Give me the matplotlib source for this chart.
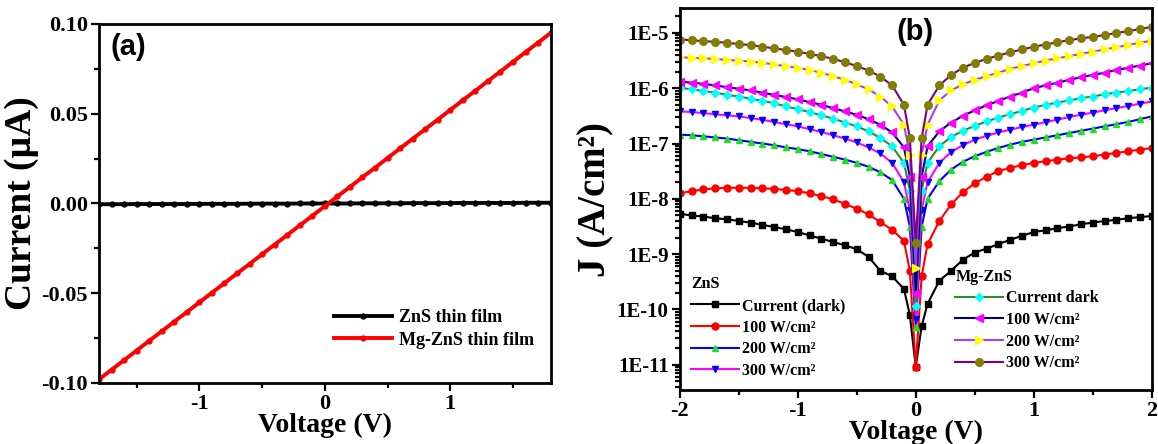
import matplotlib
matplotlib.use("Agg")
import matplotlib.pyplot as plt
from matplotlib.ticker import MultipleLocator, LogLocator, FuncFormatter, NullFormatter
import numpy as np

plt.rcParams['font.family'] = ['Liberation Serif', 'DejaVu Serif']
plt.rcParams['font.weight'] = 'bold'
plt.rcParams['axes.unicode_minus'] = False

# ---- panel (a): I-V of thin films ----
volt_a = [-1.8, -1.7, -1.6, -1.5, -1.4, -1.3, -1.2, -1.1, -1.0, -0.9, -0.8, -0.7,
          -0.6, -0.5, -0.4, -0.3, -0.2, -0.1, 0.0, 0.1, 0.2, 0.3, 0.4, 0.5,
          0.6, 0.7, 0.8, 0.9, 1.0, 1.1, 1.2, 1.3, 1.4, 1.5, 1.6, 1.7, 1.8]
zns_film = [-0.0004, -0.0004, -0.0004, -0.0003, -0.0003, -0.0003, -0.0003, -0.0003,
            -0.0002, -0.0002, -0.0002, -0.0002, -0.0001, -0.0001, -0.0001, -0.0001,
            0.0000, 0.0000, 0.0000, 0.0000, 0.0000, 0.0001, 0.0001, 0.0001, 0.0001,
            0.0002, 0.0002, 0.0002, 0.0002, 0.0003, 0.0003, 0.0003, 0.0003, 0.0003,
            0.0004, 0.0004, 0.0004]
mgzns_film = [-0.0980, -0.0926, -0.0873, -0.0819, -0.0765, -0.0712, -0.0658, -0.0605,
              -0.0551, -0.0497, -0.0444, -0.0390, -0.0337, -0.0283, -0.0229, -0.0176,
              -0.0122, -0.0069, -0.0015, 0.0039, 0.0092, 0.0146, 0.0199, 0.0253,
              0.0307, 0.0360, 0.0414, 0.0467, 0.0521, 0.0575, 0.0628, 0.0682,
              0.0735, 0.0789, 0.0843, 0.0896, 0.0950]

# ---- panel (b): log10 J (A/cm2) vs voltage ----
volt_b = [-2.0, -1.9, -1.8, -1.7, -1.6, -1.5, -1.4, -1.3, -1.2, -1.1, -1.0, -0.9,
          -0.8, -0.7, -0.6, -0.5, -0.4, -0.3, -0.2, -0.1, -0.05, 0.0, 0.05,
          0.1, 0.2, 0.3, 0.4, 0.5, 0.6, 0.7, 0.8, 0.9, 1.0, 1.1, 1.2, 1.3, 1.4,
          1.5, 1.6, 1.7, 1.8, 1.9, 2.0]
zns_dark = [-8.27, -8.30, -8.32, -8.35, -8.37, -8.40, -8.43, -8.47, -8.51, -8.55,
            -8.60, -8.66, -8.72, -8.78, -8.84, -8.91, -9.05, -9.30, -9.40, -9.63,
            -10.10, -11.04, -10.30,
            -9.90, -9.48, -9.30, -9.10, -8.97, -8.90, -8.82, -8.74, -8.67, -8.60,
            -8.57, -8.53, -8.50, -8.46, -8.43, -8.40, -8.38, -8.35, -8.33, -8.31]
zns_100 = [-7.90, -7.86, -7.83, -7.81, -7.80, -7.80, -7.80, -7.81, -7.82, -7.84,
           -7.86, -7.90, -7.95, -8.01, -8.09, -8.18, -8.28, -8.42, -8.56, -8.76,
           -9.30, -11.04, -9.40,
           -8.82, -8.40, -8.10, -7.88, -7.72, -7.60, -7.50, -7.44, -7.39, -7.35,
           -7.32, -7.29, -7.27, -7.25, -7.23, -7.20, -7.17, -7.14, -7.11, -7.08]
zns_200 = [-6.84, -6.85, -6.87, -6.89, -6.91, -6.94, -6.97, -7.00, -7.03, -7.07,
           -7.10, -7.14, -7.19, -7.24, -7.29, -7.35, -7.42, -7.52, -7.66, -8.00,
           -8.50, -10.32, -8.50,
           -8.00, -7.68, -7.47, -7.33, -7.23, -7.15, -7.08, -7.02, -6.97, -6.93,
           -6.89, -6.85, -6.81, -6.77, -6.73, -6.69, -6.65, -6.61, -6.56, -6.51]
zns_300 = [-6.42, -6.43, -6.45, -6.47, -6.49, -6.51, -6.54, -6.57, -6.61, -6.65,
           -6.69, -6.74, -6.79, -6.85, -6.91, -6.98, -7.07, -7.18, -7.35, -7.70,
           -8.20, -10.17, -8.20,
           -7.70, -7.35, -7.15, -7.03, -6.93, -6.86, -6.80, -6.75, -6.70, -6.66,
           -6.61, -6.57, -6.52, -6.48, -6.44, -6.40, -6.36, -6.32, -6.28, -6.24]
mg_dark = [-5.99, -6.02, -6.05, -6.08, -6.12, -6.15, -6.19, -6.23, -6.27, -6.33,
           -6.38, -6.43, -6.49, -6.55, -6.62, -6.69, -6.78, -6.90, -7.05, -7.35,
           -7.85, -9.93, -7.85,
           -7.35, -7.05, -6.88, -6.77, -6.68, -6.60, -6.53, -6.47, -6.41, -6.35,
           -6.30, -6.26, -6.22, -6.18, -6.15, -6.11, -6.08, -6.05, -6.02, -5.99]
mg_100 = [-5.88, -5.90, -5.92, -5.95, -5.98, -6.01, -6.04, -6.08, -6.12, -6.16,
          -6.20, -6.25, -6.30, -6.36, -6.42, -6.48, -6.56, -6.66, -6.80, -7.07,
          -7.60, -9.70, -7.60,
          -7.05, -6.78, -6.62, -6.50, -6.40, -6.31, -6.23, -6.15, -6.08, -6.00,
          -5.95, -5.90, -5.85, -5.80, -5.76, -5.72, -5.67, -5.63, -5.59, -5.55]
mg_200 = [-5.44, -5.45, -5.46, -5.47, -5.49, -5.50, -5.52, -5.54, -5.57, -5.60,
          -5.63, -5.67, -5.72, -5.78, -5.85, -5.93, -6.02, -6.15, -6.33, -6.66,
          -7.20, -9.25, -7.20,
          -6.66, -6.22, -6.04, -5.93, -5.85, -5.78, -5.72, -5.65, -5.60, -5.55,
          -5.50, -5.46, -5.42, -5.38, -5.34, -5.30, -5.26, -5.22, -5.18, -5.14]
mg_300 = [-5.12, -5.13, -5.15, -5.16, -5.18, -5.20, -5.22, -5.25, -5.28, -5.31,
          -5.34, -5.38, -5.42, -5.47, -5.53, -5.60, -5.68, -5.79, -5.95, -6.30,
          -6.90, -8.80, -6.90,
          -6.30, -5.95, -5.76, -5.63, -5.54, -5.47, -5.41, -5.35, -5.30, -5.25,
          -5.21, -5.17, -5.13, -5.10, -5.07, -5.04, -5.00, -4.97, -4.93, -4.89]

zns_labels = ['Current (dark)', '100 W/cm²', '200 W/cm²', '300 W/cm²']
mg_labels = ['Current dark', '100 W/cm²', '200 W/cm²', '300 W/cm²']

fig = plt.figure(figsize=(11.58, 4.44), dpi=100)
ax1 = fig.add_axes([0.0855, 0.1374, 0.390, 0.8086])
ax2 = fig.add_axes([0.587, 0.1216, 0.4076, 0.860])

tick_font = dict(family='Liberation Serif', weight='bold', size=16)


def style_axes(ax):
    for s in ax.spines.values():
        s.set_linewidth(2.0)
    ax.tick_params(which='both', direction='out', width=1.6, top=False, right=False,
                   labelsize=16)
    ax.tick_params(which='major', length=6, pad=2)
    ax.tick_params(which='minor', length=3.5)


# panel (a)
ax1.plot(volt_a, zns_film, color='black', lw=2.8, marker='o', ms=3.5, label='ZnS thin film')
ax1.plot(volt_a, mgzns_film, color='red', lw=2.8, marker='o', ms=3.5, label='Mg-ZnS thin film')
ax1.set_xlim(-1.8, 1.8)
ax1.set_ylim(-0.1, 0.1)
ax1.xaxis.set_major_locator(MultipleLocator(1))
ax1.xaxis.set_minor_locator(MultipleLocator(0.5))
ax1.yaxis.set_major_locator(MultipleLocator(0.05))
ax1.yaxis.set_minor_locator(MultipleLocator(0.025))
ax1.yaxis.set_major_formatter(FuncFormatter(lambda y, p: '%.2f' % y))
style_axes(ax1)
ax1.set_xlabel('Voltage (V)', fontsize=20, fontweight='bold', labelpad=-1)
ax1.set_ylabel('Current (µA)', fontsize=27, fontweight='bold', labelpad=2)
ax1.text(0.066, 0.935, '(a)', transform=ax1.transAxes, ha='center', va='center',
         fontsize=21, fontweight='bold', family='Liberation Sans')
ax1.legend(loc='lower right', bbox_to_anchor=(1.0, 0.05), frameon=False,
           handlelength=3.2, prop=dict(family='Liberation Serif', weight='bold', size=13),
           labelspacing=0.3, handletextpad=0.4)

# panel (b)
zns_sets = [(zns_dark, 'black', 'black', 's'),
            (zns_100, 'red', 'red', 'o'),
            (zns_200, 'blue', '#22dd22', '^'),
            (zns_300, 'magenta', 'blue', 'v')]
mg_sets = [(mg_dark, '#2e8b2e', 'cyan', 'D'),
           (mg_100, 'navy', 'magenta', '<'),
           (mg_200, '#a040ff', 'yellow', '>'),
           (mg_300, '#800080', '#808000', 'o')]

zns_lines = []
for (vals, lc, mc, mk), lab in zip(zns_sets, zns_labels):
    ln, = ax2.plot(volt_b, 10 ** np.array(vals), color=lc, lw=1.5, marker=mk, ms=5,
                   mfc=mc, mec=mc, label=lab)
    zns_lines.append(ln)
mg_lines = []
for (vals, lc, mc, mk), lab in zip(mg_sets, mg_labels):
    ms = 4 if mk == 'D' else 5.5
    ln, = ax2.plot(volt_b, 10 ** np.array(vals), color=lc, lw=1.5, marker=mk, ms=ms,
                   mfc=mc, mec=mc, label=lab)
    mg_lines.append(ln)

ax2.set_yscale('log')
ax2.set_xlim(-2, 2)
ax2.set_ylim(3.5e-12, 2.8e-5)
ax2.xaxis.set_major_locator(MultipleLocator(1))
ax2.xaxis.set_minor_locator(MultipleLocator(0.5))
ax2.yaxis.set_major_locator(LogLocator(base=10, numticks=20))
ax2.yaxis.set_minor_locator(LogLocator(base=10, subs=np.arange(2, 10), numticks=20))
ax2.yaxis.set_minor_formatter(NullFormatter())
ax2.yaxis.set_major_formatter(FuncFormatter(lambda y, p: '1E%d' % int(round(np.log10(y)))))
style_axes(ax2)
ax2.tick_params(axis='y', labelsize=15)
ax2.set_xlabel('Voltage (V)', fontsize=20, fontweight='bold', labelpad=-1)
ax2.set_ylabel('J (A/cm²)', fontsize=28, fontweight='bold', labelpad=2)
ax2.text(0.498, 0.937, '(b)', transform=ax2.transAxes, ha='center', va='center',
         fontsize=21, fontweight='bold', family='Liberation Sans')

leg_font = dict(family='Liberation Serif', weight='bold', size=11.5)
leg1 = ax2.legend(handles=zns_lines, loc='lower left', bbox_to_anchor=(0.0, 0.0),
                  frameon=False, title='ZnS', title_fontproperties=leg_font,
                  prop=leg_font, handlelength=3.0, handletextpad=0.2,
                  labelspacing=0.35, alignment='left', borderaxespad=0.3)
ax2.add_artist(leg1)
ax2.legend(handles=mg_lines, loc='lower left', bbox_to_anchor=(0.56, 0.02),
           frameon=False, title='Mg-ZnS', title_fontproperties=leg_font,
           prop=leg_font, handlelength=3.0, handletextpad=0.2,
           labelspacing=0.35, alignment='left', borderaxespad=0.3)

fig.savefig('out.png', dpi=100)
